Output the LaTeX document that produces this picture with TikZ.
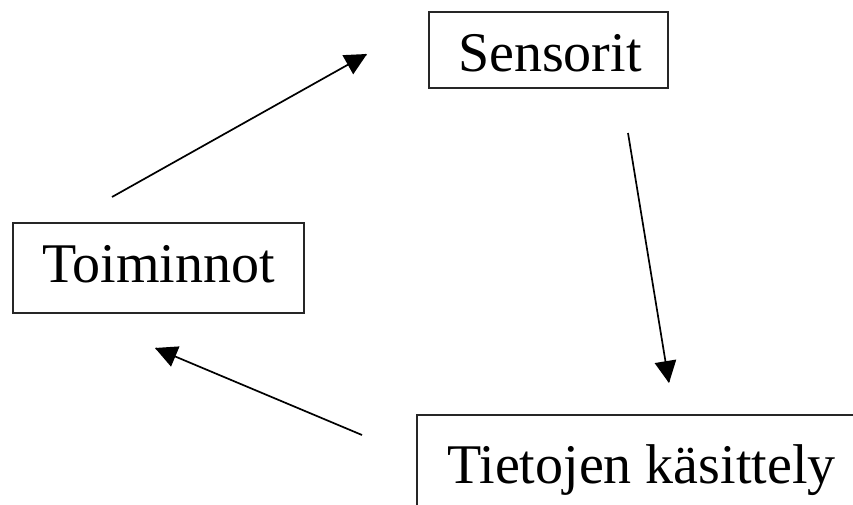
\documentclass[tikz,border=0pt]{standalone}
\usepackage{fontspec}
\newfontfamily\fa{Liberation Serif}
\pgfarrowsdeclare{bigtri}{bigtri}
{\pgfarrowsleftextend{-21pt}\pgfarrowsrightextend{1pt}}
{\pgfsetdash{}{0pt}\pgfsetmiterjoin
 \pgfpathmoveto{\pgfpoint{1pt}{0pt}}
 \pgfpathlineto{\pgfpoint{-21pt}{11pt}}
 \pgfpathlineto{\pgfpoint{-21pt}{-11pt}}
 \pgfpathclose\pgfusepathqfill}
\begin{document}
\begin{tikzpicture}[x=1pt,y=-1pt,
  box/.style={draw=black!85, line width=1.8pt, inner sep=0pt},
  lab/.style={anchor=base west, inner sep=0pt},
  conn/.style={line width=1.7pt, -bigtri}]
\useasboundingbox (0,0) rectangle (853,505);
% labels
\node[lab] (sensl) at (458,72) {\fa\fontsize{56}{60}\selectfont Sensorit};
\node[lab] (toiml) at (42,282.5) {\fa\fontsize{56}{60}\selectfont Toiminnot};
\node[lab] (tietl) at (447,483) {\fa\fontsize{56}{60}\selectfont Tietojen käsittely};
% boxes
\node[box, minimum width=239pt, minimum height=76pt] (sens) at (548.5,50) {};
\node[box, minimum width=291pt, minimum height=90pt] (toim) at (158.5,268) {};
\node[box, minimum width=460pt, minimum height=110pt] (tiet) at (647,470) {};
% connector ends
\coordinate (a1) at (112,197);
\coordinate (a2) at (367,54);
\coordinate (b1) at (628,133);
\coordinate (b2) at (669,383);
\coordinate (c1) at (362,435);
\coordinate (c2) at (155,348);
\draw[conn] (a1) -- (a2);
\draw[conn] (b1) -- (b2);
\draw[conn] (c1) -- (c2);
\end{tikzpicture}
\end{document}
